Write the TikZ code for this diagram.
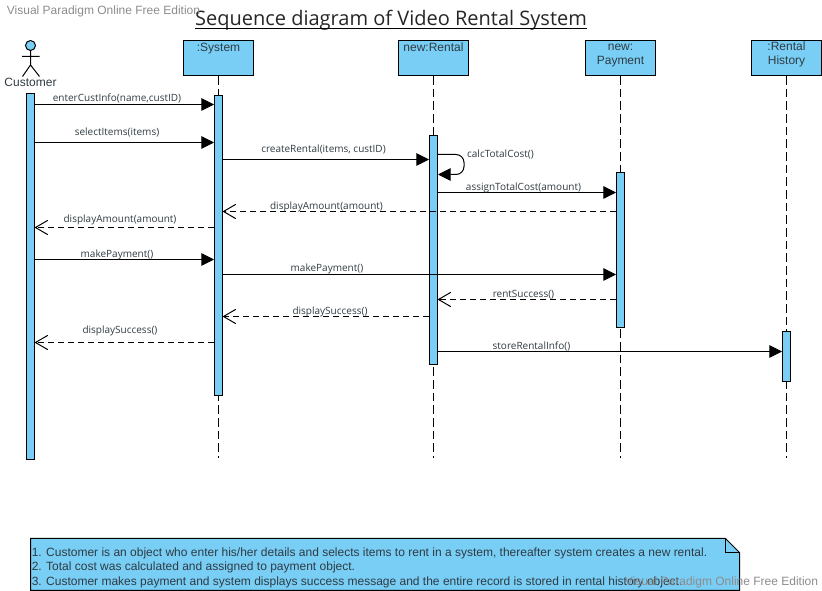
\documentclass[tikz,border=0pt]{standalone}
\usepackage{fontspec}
\setmainfont{Liberation Sans}
\newfontfamily\msgfont{Open Sans}
\usetikzlibrary{arrows.meta}
\definecolor{umlblue}{HTML}{79CEF6}
\definecolor{txt}{HTML}{2F3B42}
\tikzset{
  head/.style={draw=black,line width=.75pt,fill=umlblue,minimum width=52.5pt,minimum height=26.25pt,inner sep=0pt},
  headtext/.style={anchor=base,inner sep=0pt,align=center,text=txt,font=\fontsize{9pt}{10.5pt}\selectfont},
  bar/.style={draw=black,line width=.75pt,fill=umlblue,minimum width=6pt,inner sep=0pt},
  life/.style={line width=.75pt,dash pattern=on 6.5pt off 3pt},
  syncmsg/.style={line width=.75pt,-{Triangle[length=9.5pt,width=9.5pt]}},
  retmsg/.style={line width=.75pt,dash pattern=on 4.5pt off 3pt,-{Straight Barb[length=9pt,width=10.5pt,line width=.75pt,round=false]}},
  msglabel/.style={anchor=base,inner sep=0pt,text=txt,font=\msgfont\fontsize{7.5pt}{8pt}\selectfont},
  notetext/.style={anchor=base west,inner sep=0pt,text=txt,font=\fontsize{9pt}{10pt}\selectfont},
  wmark/.style={anchor=center,inner sep=0pt,text=gray!90,font=\fontsize{9pt}{10pt}\selectfont}
}
\begin{document}
\begin{tikzpicture}[x=.75pt,y=-.75pt]
\useasboundingbox (0,0) rectangle (822,591);
\begin{scope}[shift={(0.5,0.5)}]
% title
\node[anchor=base,inner sep=0pt,text=black!85,font=\msgfont\fontsize{15pt}{18pt}\selectfont] (title) at (390.5,25.5) {Sequence diagram of Video Rental System};
\draw[line width=.9pt] ([yshift=-1.6pt]title.base west) -- ([yshift=-1.6pt]title.base east);
% actor
\draw[line width=.75pt,fill=umlblue] (30,45) circle[radius=5];
\draw[line width=.75pt] (30,50) -- (30,64.5) (21.5,56) -- (39,56) (22,76) -- (30,64.5) -- (39,76);
\node[anchor=base,inner sep=0pt,text=txt,font=\fontsize{9pt}{10pt}\selectfont] (custname) at (30,86.5) {Customer};
% heads
\node[head] (sys) at (218,57.5) {};
\node[head] (ren) at (433,57.5) {};
\node[head] (pay) at (620,57.5) {};
\node[head] (his) at (786,57.5) {};
\node[headtext] (syst) at (218,51) {:System};
\node[headtext] (rent) at (433,51) {new:Rental};
\node[headtext] (payt) at (620,64.5) {new:\\Payment};
\node[headtext] (hist) at (786,64.5) {:Rental\\History};
% lifelines
\coordinate (sysend) at (218,458);
\coordinate (renend) at (433,458);
\coordinate (payend) at (620,458);
\coordinate (hisend) at (786,458);
\draw[life] (sys.south) -- (sysend);
\draw[life] (ren.south) -- (renend);
\draw[life] (pay.south) -- (payend);
\draw[life] (his.south) -- (hisend);
% activation bars
\node[bar,minimum height=275pt] (bc) at (30,276) {};
\node[bar,minimum height=225.4pt] (bs) at (218,245) {};
\node[bar,minimum height=171.75pt] (br) at (433,249.5) {};
\node[bar,minimum height=116.25pt] (bp) at (620,249.5) {};
\node[bar,minimum height=37.5pt] (bh) at (786,356) {};
% messages
\draw[syncmsg] (bc.east |- 0,104) -- (bs.west |- 0,104);
\node[msglabel] (m1) at (116.5,101.5) {enterCustInfo(name,custID)};
\draw[syncmsg] (bc.east |- 0,142) -- (bs.west |- 0,142);
\node[msglabel] (m2) at (116.5,135.5) {selectItems(items)};
\draw[syncmsg] (bs.east |- 0,159) -- (br.west |- 0,159);
\node[msglabel] (m3) at (323,152.5) {createRental(items, custID)};
\draw[syncmsg,rounded corners=6pt] (br.east |- 0,154) -- (463.5,154) -- (463.5,174) -- (br.east |- 0,174);
\node[msglabel] (m4) at (500,157.5) {calcTotalCost()};
\draw[syncmsg] (br.east |- 0,192) -- (bp.west |- 0,192);
\node[msglabel] (m5) at (523,190) {assignTotalCost(amount)};
\draw[retmsg] (bp.west |- 0,211) -- (bs.east |- 0,211);
\node[msglabel] (m6) at (326,209.5) {displayAmount(amount)};
\draw[retmsg] (bs.west |- 0,227) -- (bc.east |- 0,227);
\node[msglabel] (m7) at (119.5,222.5) {displayAmount(amount)};
\draw[syncmsg] (bc.east |- 0,259) -- (bs.west |- 0,259);
\node[msglabel] (m8) at (116.5,257) {makePayment()};
\draw[syncmsg] (bs.east |- 0,274) -- (bp.west |- 0,274);
\node[msglabel] (m9) at (326.5,271.5) {makePayment()};
\draw[retmsg] (bp.west |- 0,299) -- (br.east |- 0,299);
\node[msglabel] (m10) at (523,297.5) {rentSuccess()};
\draw[retmsg] (br.west |- 0,316) -- (bs.east |- 0,316);
\node[msglabel] (m11) at (329.5,314.5) {displaySuccess()};
\draw[retmsg] (bs.west |- 0,342) -- (bc.east |- 0,342);
\node[msglabel] (m12) at (119.5,333.5) {displaySuccess()};
\draw[syncmsg] (br.east |- 0,351) -- (bh.west |- 0,351);
\node[msglabel] (m13) at (531,349) {storeRentalInfo()};
% note
\draw[line width=.75pt,fill=umlblue] (30,538) -- (725,538) -- (739,552) -- (739,590) -- (30,590) -- cycle;
\draw[line width=.75pt] (725,538) -- (725,552) -- (739,552);
\node[notetext] (n1) at (31,556.5) {1. Customer is an object who enter his/her details and selects items to rent in a system, thereafter system creates a new rental.};
\node[notetext] (n2) at (31,570.5) {2. Total cost was calculated and assigned to payment object.};
\node[notetext] (n3) at (31,585.5) {3. Customer makes payment and system displays success message and the entire record is stored in rental history object.};
% watermarks
\node[wmark] (w1) at (103,11) {Visual Paradigm Online Free Edition};
\node[wmark] (w2) at (721,582) {Visual Paradigm Online Free Edition};
\end{scope}
\end{tikzpicture}
\end{document}
